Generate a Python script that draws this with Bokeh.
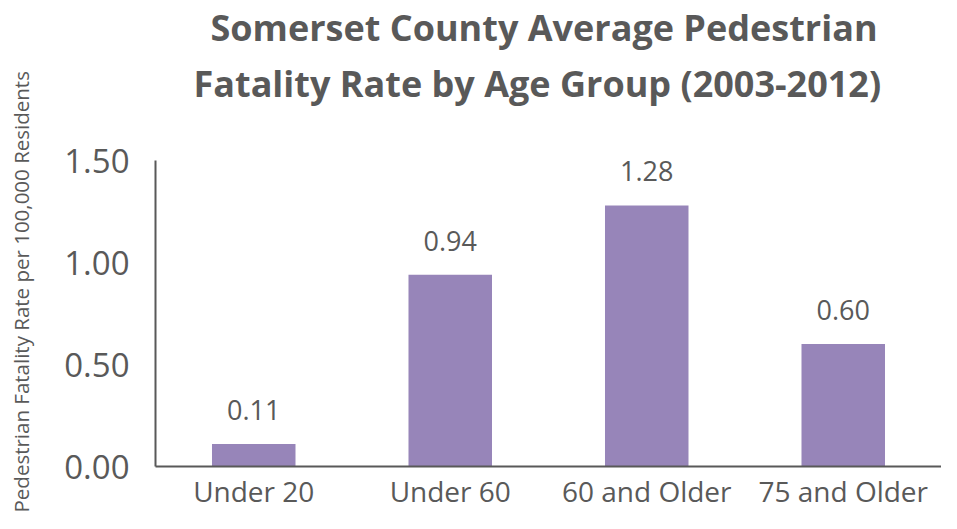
from bokeh.plotting import figure
from bokeh.models import Title, FactorRange, Range1d, FixedTicker, NumeralTickFormatter
from bokeh.core.properties import value
from bokeh.embed import file_html
from bokeh.resources import INLINE

categories = ["Under 20", "Under 60", "60 and Older", "75 and Older"]
rates = [0.11, 0.94, 1.28, 0.60]
y_ticks = [0.0, 0.5, 1.0, 1.5]
title_lines = ["Somerset County Average Pedestrian", "Fatality Rate by Age Group (2003-2012)"]
y_label = "Pedestrian Fatality Rate per 100,000 Residents"

rate_labels = [f"{v:.2f}" for v in rates]

TEXT = "#595959"
BAR = "#9785b9"
FONT = "Open Sans"

p = figure(x_range=FactorRange(*categories), y_range=Range1d(0, 1.5),
           width=941, height=513, title=None,
           output_backend="svg", toolbar_location=None,
           min_border_left=0, min_border_right=0, min_border_top=0, min_border_bottom=47)

# title block (spacer nearest the frame, then line 2, then line 1)
p.add_layout(Title(text=" ", text_font_size="1px", standoff=45), "above")
t2 = Title(text=title_lines[1], align="left", offset=38, text_font=FONT, text_font_size="36px",
           text_font_style="bold", text_color=TEXT, standoff=10)
p.add_layout(t2, "above")
t1 = Title(text=title_lines[0], align="left", offset=55, text_font=FONT, text_font_size="36px",
           text_font_style="bold", text_color=TEXT, standoff=0)
p.add_layout(t1, "above")

# y label on the far left, with a spacer between it and the axis
p.add_layout(Title(text=" ", text_font_size="1px", standoff=20), "left")
yl = Title(text=y_label, align="left", offset=-46, text_font=FONT, text_font_size="20.5px",
           text_font_style="normal", text_color=TEXT, standoff=8)
p.add_layout(yl, "left")

p.vbar(x=categories, top=rates, width=0.425, fill_color=BAR, line_color=None)
p.text(x=categories, y=rates, text=rate_labels, text_align="center", text_baseline="alphabetic",
       y_offset=-34, text_font=value(FONT), text_font_size="27px", text_color=TEXT)

p.outline_line_color = None
p.xgrid.grid_line_color = None
p.ygrid.grid_line_color = None

p.yaxis.ticker = FixedTicker(ticks=y_ticks)
p.yaxis.formatter = NumeralTickFormatter(format="0.00")
p.yaxis.major_label_text_font = FONT
p.yaxis.major_label_text_font_size = "33px"
p.yaxis.major_label_text_color = TEXT
p.yaxis.major_label_standoff = 20
p.yaxis.major_tick_line_color = None
p.yaxis.minor_tick_line_color = None
p.yaxis.axis_line_color = TEXT
p.yaxis.axis_line_width = 2

p.xaxis.major_label_text_font = FONT
p.xaxis.major_label_text_font_size = "28px"
p.xaxis.major_label_text_color = TEXT
p.xaxis.major_label_standoff = -1
p.xaxis.major_tick_line_color = None
p.xaxis.minor_tick_line_color = None
p.xaxis.axis_line_color = TEXT
p.xaxis.axis_line_width = 2

open("out.html", "w").write(file_html(p, INLINE))
